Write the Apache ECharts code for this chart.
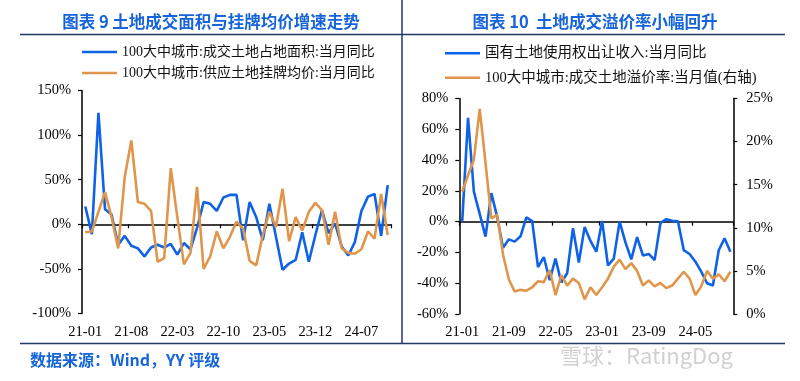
<!DOCTYPE html>
<html>
<head>
<meta charset="utf-8">
<script src="https://cdn.jsdelivr.net/npm/echarts@6/dist/echarts.min.js"></script>
<style>
html,body{margin:0;padding:0;background:#fff;}
#main{width:800px;height:381px;}
</style>
</head>
<body>
<div id="main"></div>
<script>
// ---- data ----
var months = ['21-01','21-02','21-03','21-04','21-05','21-06','21-07','21-08','21-09','21-10','21-11','21-12',
  '22-01','22-02','22-03','22-04','22-05','22-06','22-07','22-08','22-09','22-10','22-11','22-12',
  '23-01','23-02','23-03','23-04','23-05','23-06','23-07','23-08','23-09','23-10','23-11','23-12',
  '24-01','24-02','24-03','24-04','24-05','24-06','24-07','24-08','24-09','24-10','24-11'];

var leftName1 = '100大中城市:成交土地占地面积:当月同比';
var leftName2 = '100大中城市:供应土地挂牌均价:当月同比';
var rightName1 = '国有土地使用权出让收入:当月同比';
var rightName2 = '100大中城市:成交土地溢价率:当月值(右轴)';

var landAreaYoY = [20, -11, 125, 17, 11, -23, -13, -24, -27, -36, -26, -23, -26, -22, -34, -21, -28, -4, 25, 23, 15, 30, 33, 33,
  -18, 25, 8, -18, 23, -14, -51, -44, -40, -9, -42, -12, 16, -10, 1, -25, -35, -20, 15, 31, 34, -13, 44];
var listPriceYoY = [-9, -8, 14, 36, 8, -27, 53, 94, 25, 23, 15, -42, -38, 63, 8, -45, -32, 42, -50, -36, -8, -27, -14, 3,
  -5, -41, -46, -12, 14, -3, 40, -19, 8, -7, 14, 24, 16, -23, 14, -27, -32, -33, -28, -8, -16, 34, -12];
var landRevenueYoY = [0, 67.5, 19.5, 5, -9.7, 18.5, 3, -17, -11.5, -13, -9.5, 2.8, 0.4, -29.5, -23, -38, -24, -39.5, -33.5, -4.2, -26.5, -3.5, -12.5, -19.5,
  0.5, -28.5, -24, 0, -13.5, -24.5, -10, -22, -21, -25, -1, 1.6, 0.5, 0.2, -18.5, -21, -26, -32.5, -40, -41.5, -18.6, -10.8, -19.5];
var premiumRate = [14.2, 16.1, 17.9, 23.8, 17.5, 11.1, 11.5, 6.9, 4.0, 2.6, 2.8, 2.7, 3.1, 3.8, 3.7, 5.1, 2.2, 4.5, 3.3, 4.1, 3.6, 1.7, 3.1, 2.2,
  3.1, 4.1, 5.5, 6.3, 5.2, 5.9, 5.0, 3.3, 3.9, 3.2, 3.6, 3.0, 3.3, 4.1, 4.9, 4.1, 2.2, 3.2, 5.0, 4.1, 4.6, 3.8, 4.9];

var leftTicks = {min: -100, max: 150, interval: 50};
var rightTicksL = {min: -60, max: 80, interval: 20};
var rightTicksR = {min: 0, max: 25, interval: 5};

// ---- styles ----
var BLUE = '#0F62E6';
var ORANGE = '#E0964A';
var NAVY = '#1F3864';
var TITLE_BLUE = '#1664DA';
var SERIF = '"Liberation Serif", "Noto Sans CJK SC", serif';
var lab = {color: '#000', fontFamily: SERIF, fontSize: 14.5};

function catAxisLine(grid, interval, onZeroIdx) {
  return {
    type: 'category', gridIndex: grid, data: months, boundaryGap: true,
    axisLine: {show: true, onZero: true, onZeroAxisIndex: onZeroIdx, lineStyle: {color: '#000', width: 1.5}},
    axisTick: {show: true, interval: interval, length: 4, lineStyle: {color: '#000', width: 1.2}},
    axisLabel: {show: false}, splitLine: {show: false}
  };
}
function catAxisLabels(grid, interval, margin) {
  return {
    type: 'category', gridIndex: grid, data: months, boundaryGap: true, position: 'bottom',
    axisLine: {show: false, onZero: false}, axisTick: {show: false},
    axisLabel: Object.assign({interval: interval, margin: margin}, lab), splitLine: {show: false}
  };
}
function valAxis(grid, t, pos, margin) {
  return {
    type: 'value', gridIndex: grid, position: pos, min: t.min, max: t.max, interval: t.interval,
    axisLine: {show: true, onZero: false, lineStyle: {color: '#000', width: 1.5}},
    axisTick: {show: true, inside: false, length: 4, lineStyle: {color: '#000', width: 1.2}},
    axisLabel: Object.assign({formatter: '{value}%', margin: margin}, lab),
    splitLine: {show: false}
  };
}
function lineSeries(name, data, xi, yi, color) {
  return {
    name: name, type: 'line', data: data, xAxisIndex: xi, yAxisIndex: yi,
    symbol: 'none', showSymbol: false, smooth: false,
    lineStyle: {color: color, width: 2.6}, itemStyle: {color: color}
  };
}
function legendAt(left, top, names, gap, fs) {
  return {
    data: names, orient: 'vertical', left: left, top: top, itemWidth: 35, itemHeight: 14, itemGap: gap,
    icon: 'path://M0,6 L35,6 L35,8.6 L0,8.6 Z',
    textStyle: {color: '#111', fontFamily: SERIF, fontSize: fs}, selectedMode: false
  };
}

var chart = echarts.init(document.getElementById('main'), null, {renderer: 'canvas'});
chart.setOption({
  animation: false,
  backgroundColor: '#fff',
  grid: [
    {left: 82, top: 90.5, width: 309, height: 223},
    {left: 459.3, top: 98.5, width: 274, height: 215.5}
  ],
  legend: [
    legendAt(77, 40, [leftName1, leftName2], 7, 14),
    legendAt(440, 41, [rightName1, rightName2], 10, 14.5)
  ],
  xAxis: [
    catAxisLine(0, 6, 0),
    catAxisLabels(0, 6, 11),
    catAxisLine(1, 7, 1),
    catAxisLabels(1, 7, 11)
  ],
  yAxis: [
    valAxis(0, leftTicks, 'left', 11),
    valAxis(1, rightTicksL, 'left', 11),
    valAxis(1, rightTicksR, 'right', 13)
  ],
  series: [
    lineSeries(leftName1, landAreaYoY, 0, 0, BLUE),
    lineSeries(leftName2, listPriceYoY, 0, 0, ORANGE),
    lineSeries(rightName1, landRevenueYoY, 2, 1, BLUE),
    lineSeries(rightName2, premiumRate, 2, 2, ORANGE)
  ],
  graphic: [
    {type: 'text', x: 211, y: 22, style: {text: '图表 9 土地成交面积与挂牌均价增速走势', fill: TITLE_BLUE,
      font: 'bold 16.5px "Noto Sans CJK SC", sans-serif', textAlign: 'center', textVerticalAlign: 'middle'}},
    {type: 'text', x: 595, y: 22, style: {text: '图表 10  土地成交溢价率小幅回升', fill: TITLE_BLUE,
      font: 'bold 16.5px "Noto Sans CJK SC", sans-serif', textAlign: 'center', textVerticalAlign: 'middle'}},
    {type: 'line', shape: {x1: 20, y1: 34.5, x2: 785, y2: 34.5}, style: {stroke: NAVY, lineWidth: 1.5}},
    {type: 'line', shape: {x1: 402, y1: 0, x2: 402, y2: 343.5}, style: {stroke: NAVY, lineWidth: 1.5}},
    {type: 'line', shape: {x1: 20, y1: 343.5, x2: 785, y2: 343.5}, style: {stroke: NAVY, lineWidth: 1.5}},
    {type: 'text', x: 30, y: 360, style: {text: '数据来源：Wind，YY 评级', fill: TITLE_BLUE,
      font: 'bold 16px "Noto Sans CJK SC", sans-serif', textAlign: 'left', textVerticalAlign: 'middle'}},
    {type: 'text', x: 560, y: 356, style: {text: '雪球：RatingDog', fill: 'rgba(150,150,150,0.45)',
      font: '22px "Noto Sans CJK SC", sans-serif', textAlign: 'left', textVerticalAlign: 'middle'}}
  ]
});
</script>
</body>
</html>
